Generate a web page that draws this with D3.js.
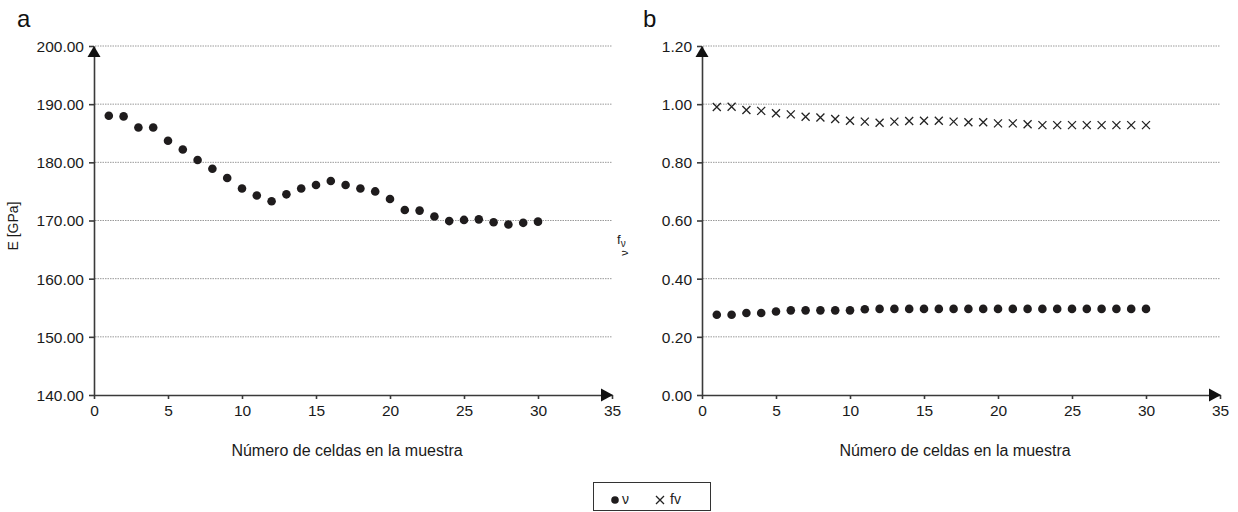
<!DOCTYPE html>
<html>
<head>
<meta charset="utf-8">
<script src="https://cdn.jsdelivr.net/npm/d3@7"></script>
<style>
  body { margin: 0; background: #fff; }
  svg { display: block; font-family: "Liberation Sans", Arial, Helvetica, sans-serif; }
  .grid line { stroke: #9a9a9a; stroke-width: 1; stroke-dasharray: 1.5,1; }
  .axis path, .axis line { stroke: #3a3a3a; stroke-width: 1.6; }
  .axis text { fill: #1a1a1a; font-size: 15.5px; }
</style>
</head>
<body>
<div id="chart"></div>
<script>
// Data
const cells = d3.range(1, 31);
const modulusE = [188.0, 187.9, 186.0, 186.0, 183.7, 182.2, 180.4, 178.9, 177.3, 175.5,
                  174.3, 173.3, 174.5, 175.5, 176.1, 176.8, 176.1, 175.5, 175.0, 173.7,
                  171.8, 171.7, 170.7, 169.9, 170.1, 170.2, 169.7, 169.3, 169.6, 169.8];
const nu = [0.276, 0.276, 0.282, 0.282, 0.287, 0.291, 0.291, 0.291, 0.291, 0.291,
            0.295, 0.296, 0.296, 0.296, 0.296, 0.296, 0.296, 0.296, 0.296, 0.296,
            0.296, 0.296, 0.296, 0.296, 0.296, 0.296, 0.296, 0.296, 0.296, 0.296];
const fv = [0.990, 0.991, 0.980, 0.977, 0.969, 0.965, 0.957, 0.954, 0.949, 0.943,
            0.940, 0.936, 0.940, 0.942, 0.943, 0.943, 0.940, 0.938, 0.938, 0.934,
            0.934, 0.931, 0.928, 0.928, 0.928, 0.928, 0.928, 0.928, 0.928, 0.928];
const xTicks = [0, 5, 10, 15, 20, 25, 30, 35];
const eTicks = [140, 150, 160, 170, 180, 190, 200];
const vTicks = [0, 0.2, 0.4, 0.6, 0.8, 1.0, 1.2];
const xTitle = "Número de celdas en la muestra";

const W = 1238, H = 512;
const plotTop = 46, plotBottom = 395;

const svg = d3.select("#chart").append("svg")
    .attr("width", W)
    .attr("height", H);

function panel(opts) {
  const { x0, x1, yDomain, yTicks, label, labelX } = opts;
  const x = d3.scaleLinear().domain([0, 35]).range([x0, x1]);
  const y = d3.scaleLinear().domain(yDomain).range([plotBottom, plotTop]);
  const g = svg.append("g");

  // gridlines
  g.append("g").attr("class", "grid")
    .selectAll("line")
    .data(yTicks.slice(1))
    .enter().append("line")
      .attr("x1", x0 + 1).attr("x2", x1)
      .attr("y1", d => y(d)).attr("y2", d => y(d));

  // axes
  g.append("g")
    .attr("class", "axis")
    .attr("transform", `translate(0,${plotBottom})`)
    .call(d3.axisBottom(x).tickValues(xTicks).tickSize(4).tickPadding(3).tickSizeOuter(0))
    .call(a => a.selectAll("text").attr("dy", "0.9em"));

  g.append("g")
    .attr("class", "axis")
    .attr("transform", `translate(${x0},0)`)
    .call(d3.axisLeft(y).tickValues(yTicks).tickFormat(d3.format(".2f")).tickSize(5).tickPadding(5).tickSizeOuter(0))
    .call(a => a.selectAll("text").attr("dy", "0.35em"));

  // arrow heads
  g.append("path")
    .attr("d", `M${x0},${plotTop} L${x0 - 6.5},${plotTop + 11} L${x0 + 6.5},${plotTop + 11} Z`)
    .attr("fill", "#111");
  g.append("path")
    .attr("d", `M${x1 + 1},${plotBottom} L${x1 - 11},${plotBottom - 6.5} L${x1 - 11},${plotBottom + 6.5} Z`)
    .attr("fill", "#111");

  // panel letter
  svg.append("text")
    .attr("x", labelX)
    .attr("y", 27)
    .style("font-size", "24px")
    .style("fill", "#111")
    .text(label);

  // x title
  svg.append("text")
    .attr("x", (x0 + x1) / 2 - 6)
    .attr("y", 456)
    .style("text-anchor", "middle")
    .style("font-size", "16px")
    .style("fill", "#1a1a1a")
    .text(xTitle);

  return { x, y, g };
}

const a = panel({ x0: 94, x1: 612, yDomain: [140, 200], yTicks: eTicks, label: "a", labelX: 17 });
const b = panel({ x0: 702, x1: 1220, yDomain: [0, 1.2], yTicks: vTicks, label: "b", labelX: 643 });

// y titles
svg.append("text")
  .attr("transform", "translate(18,226) rotate(-90)")
  .style("text-anchor", "middle")
  .style("font-size", "14px")
  .style("fill", "#1a1a1a")
  .text("E [GPa]");

const fl = svg.append("text")
  .attr("x", 617)
  .attr("y", 244)
  .style("font-size", "13px")
  .style("fill", "#1a1a1a");
fl.append("tspan").text("f");
fl.append("tspan").attr("dy", 3).style("font-size", "10px").text("ν");
svg.append("text")
  .attr("transform", "translate(628,253) rotate(-90)")
  .style("text-anchor", "middle")
  .style("font-size", "11px")
  .style("fill", "#1a1a1a")
  .text("ν");

// markers
function dots(p, values) {
  p.g.selectAll(null)
    .data(values)
    .enter().append("circle")
      .attr("cx", (d, i) => p.x(cells[i]))
      .attr("cy", d => p.y(d))
      .attr("r", 4.3)
      .attr("fill", "#1f1c1d");
}
function crosses(p, values) {
  const s = 4;
  p.g.selectAll(null)
    .data(values)
    .enter().append("path")
      .attr("d", (d, i) => {
        const cx = p.x(cells[i]), cy = p.y(d);
        return `M${cx - s},${cy - s}L${cx + s},${cy + s}M${cx - s},${cy + s}L${cx + s},${cy - s}`;
      })
      .attr("stroke", "#222")
      .attr("stroke-width", 1.3)
      .attr("fill", "none");
}

dots(a, modulusE);
dots(b, nu);
crosses(b, fv);

// legend
const lg = svg.append("g");
lg.append("rect")
  .attr("x", 593.5).attr("y", 482.5)
  .attr("width", 117).attr("height", 28)
  .attr("fill", "none")
  .attr("stroke", "#333")
  .attr("stroke-width", 1);
lg.append("circle").attr("cx", 615).attr("cy", 500).attr("r", 3.8).attr("fill", "#1f1c1d");
lg.append("text").attr("x", 622).attr("y", 504).style("font-size", "14px").style("fill", "#222").text("ν");
lg.append("path")
  .attr("d", "M656,496L664,504M656,504L664,496")
  .attr("stroke", "#222").attr("stroke-width", 1.3);
lg.append("text").attr("x", 670).attr("y", 504).style("font-size", "14px").style("fill", "#222").text("fv");
</script>
</body>
</html>
